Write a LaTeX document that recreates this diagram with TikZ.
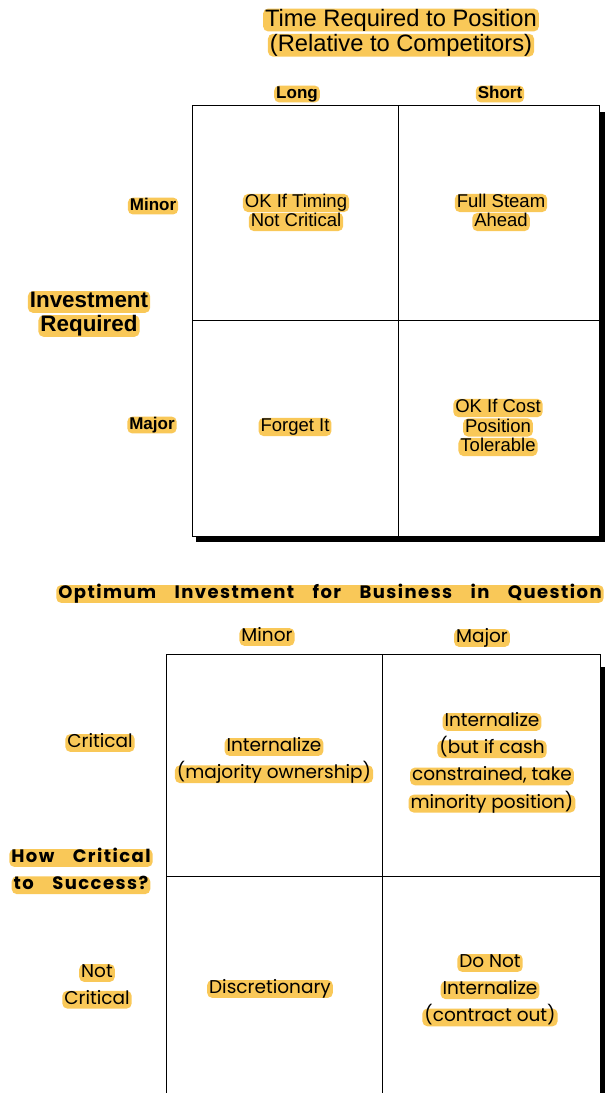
\documentclass[tikz,border=0pt]{standalone}
\usepackage{fontspec}
\setmainfont{Liberation Sans}
\newfontfamily\gothic{Poppins}
\newfontfamily\gothicwide[LetterSpace=8,WordSpace=3.5]{Poppins}
\usetikzlibrary{positioning}
\usepackage{xcolor}
\definecolor{hlyellow}{RGB}{249,200,88}

\begin{document}
\begin{tikzpicture}[x=1pt, y=-1pt, node distance=0.5pt,
    hl/.style={fill=hlyellow, rounded corners=5pt, inner xsep=2pt, inner ysep=0.4pt},
    toptext/.style={hl, text height=13.5pt, text depth=3.8pt, font=\fontsize{18.5}{20}\selectfont},
    tophead/.style={hl, text height=12.5pt, text depth=3.6pt, font=\fontsize{17}{20}\selectfont\bfseries},
    topbig/.style={hl, text height=16pt, text depth=4.8pt, font=\fontsize{22.4}{24}\selectfont\bfseries},
    toptitle/.style={hl, text height=17pt, text depth=5pt, font=\fontsize{23.7}{26}\selectfont},
    bottext/.style={hl, text height=13pt, text depth=4pt, font=\gothic\fontsize{18.5}{20}\selectfont},
    botwide/.style={hl, text height=13pt, text depth=4pt, font=\gothicwide\fontsize{18}{20}\selectfont\bfseries},
    frame/.style={draw, line width=1pt}]

    \clip (0,0) rectangle (607,1093);
    \fill[white] (0,0) rectangle (607,1093);

    % top matrix
    \fill (599,112) rectangle (605,542);
    \fill (196,537) rectangle (605,542);
    \draw[frame] (192,105) rectangle (599,536);
    \draw[frame] (398,105) -- (398,536);
    \draw[frame] (192,320) -- (599,320);

    \node[toptitle] (time1) at (401,20) {Time Required to Position};
    \node[toptitle, below=2pt of time1] (time2) {(Relative to Competitors)};
    \node[tophead] (long) at (297,94) {Long};
    \node[tophead] (short) at (500,94) {Short};
    \node[tophead] (minor) at (153,206) {Minor};
    \node[tophead] (major) at (152,425) {Major};
    \node[topbig] (invest1) at (89,302) {Investment};
    \node[topbig, below=2pt of invest1] (invest2) {Required};

    \node[toptext] (timing1) at (296,203) {OK If Timing};
    \node[toptext, below=of timing1] (timing2) {Not Critical};
    \node[toptext] (steam1) at (501,203) {Full Steam};
    \node[toptext, below=of steam1] (steam2) {Ahead};
    \node[toptext] (forget) at (295,427) {Forget It};
    \node[toptext] (cost1) at (498,408) {OK If Cost};
    \node[toptext, below=1pt of cost1] (cost2) {Position};
    \node[toptext, below=1pt of cost2] (cost3) {Tolerable};

    % bottom matrix
    \fill (600,667) rectangle (605,1100);
    \draw[frame] (166,654) rectangle (600,1110);
    \draw[frame] (382,654) -- (382,1110);
    \draw[frame] (166,876) -- (600,876);

    \node[botwide] (optimum) at (330,594) {Optimum Investment for Business in Question};
    \node[bottext] (bminor) at (267,637) {Minor};
    \node[bottext] (bmajor) at (482,638) {Major};
    \node[bottext] (crit) at (100,743) {Critical};
    \node[botwide] (how1) at (81,858) {How Critical};
    \node[botwide, below=9pt of how1] (how2) {to Success?};
    \node[bottext] (notcrit1) at (97,973) {Not};
    \node[bottext, below=8.5pt of notcrit1] (notcrit2) {Critical};

    \node[bottext] (intmin1) at (274,747) {Internalize};
    \node[bottext, below=9pt of intmin1] (intmin2) {(majority ownership)};
    \node[bottext] (intmaj1) at (492,722) {Internalize};
    \node[bottext, below=9pt of intmaj1] (intmaj2) {(but if cash};
    \node[bottext, below=9pt of intmaj2] (intmaj3) {constrained, take};
    \node[bottext, below=9pt of intmaj3] (intmaj4) {minority position)};
    \node[bottext] (discr) at (270,989) {Discretionary};
    \node[bottext] (donot1) at (490,963) {Do Not};
    \node[bottext, below=9pt of donot1] (donot2) {Internalize};
    \node[bottext, below=9pt of donot2] (donot3) {(contract out)};
\end{tikzpicture}
\end{document}
